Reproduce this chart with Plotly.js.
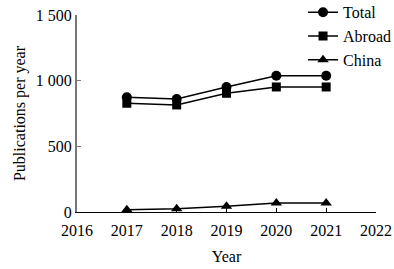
<!DOCTYPE html>
<html>
<head>
<meta charset="utf-8">
<script src="https://cdn.plot.ly/plotly-3.0.1.min.js"></script>
<style>html,body{margin:0;padding:0;background:#fff;}#chart{width:394px;height:269px;}</style>
</head>
<body>
<div id="chart"></div>
<script>
const years = [2017, 2018, 2019, 2020, 2021];
const total = [873, 860, 952, 1038, 1038];
const abroad = [828, 815, 904, 952, 952];
const china = [18, 25, 43, 69, 69];
const yTickVals = [0, 500, 1000, 1500];
const yTickText = ['0', '500', '1 000', '1 500'];
const xTickVals = [2016, 2017, 2018, 2019, 2020, 2021, 2022];

const font = {family: 'Liberation Serif, Times New Roman, serif', size: 16, color: '#000'};
function tr(name, y, symbol, size) {
  return {x: years, y: y, name: name, type: 'scatter', mode: 'lines+markers',
    line: {color: '#000', width: 1.5}, marker: {symbol: symbol, size: size, color: '#000'}};
}
const data = [
  tr('Total', total, 'circle', 10),
  tr('Abroad', abroad, 'square', 9),
  tr('China', china, 'triangle-up', 10)
];
const layout = {
  width: 394, height: 269,
  margin: {l: 77, r: 18, t: 15, b: 57, autoexpand: false},
  paper_bgcolor: '#fff', plot_bgcolor: '#fff',
  font: font,
  showlegend: true,
  legend: {x: 1.067, y: 1.1, xanchor: 'right', yanchor: 'top', font: font, itemwidth: 30, bgcolor: 'rgba(0,0,0,0)', tracegroupgap: 0},
  xaxis: {range: [2016, 2022], tickvals: xTickVals, showgrid: false, zeroline: false,
    showline: true, linecolor: '#000', linewidth: 1, ticks: 'inside', ticklen: 4, tickcolor: '#000',
    ticklabelstandoff: 4,
    tickfont: font, title: {text: 'Year', font: font, standoff: 12}},
  yaxis: {range: [0, 1500], tickvals: yTickVals, ticktext: yTickText, showgrid: false, zeroline: false,
    showline: true, linecolor: '#777', linewidth: 2, ticks: 'inside', ticklen: 4, tickcolor: '#777',
    tickfont: font, title: {text: 'Publications per year', font: font, standoff: 6}}
};
Plotly.newPlot('chart', data, layout, {displayModeBar: false, staticPlot: true});
</script>
</body>
</html>
